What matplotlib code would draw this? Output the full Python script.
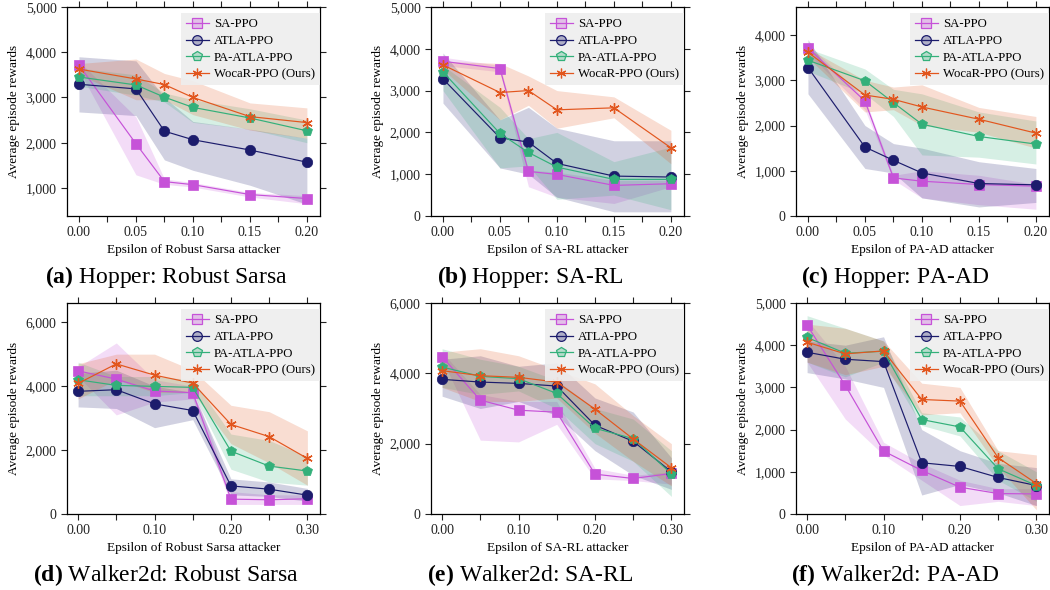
import matplotlib
matplotlib.use("Agg")
import matplotlib.pyplot as plt
from matplotlib.lines import Line2D
from matplotlib.ticker import FuncFormatter, MultipleLocator
import matplotlib.colors as mcolors

plt.rcParams['font.family'] = ['Liberation Serif', 'DejaVu Serif']
plt.rcParams['mathtext.fontset'] = 'custom'
plt.rcParams['mathtext.rm'] = 'Liberation Serif'
plt.rcParams['mathtext.bf'] = 'Liberation Serif:bold'

methods = ["SA-PPO", "ATLA-PPO", "PA-ATLA-PPO", "WocaR-PPO (Ours)"]
colors = ["#c652d8", "#1c1c6c", "#33b07a", "#e2561e"]
markers = ["s", "o", "p", (6, 2, 0)]

eps_hopper = [0.0, 0.05, 0.075, 0.10, 0.15, 0.20]
eps_walker = [0.0, 0.05, 0.10, 0.15, 0.20, 0.25, 0.30]

# (a) Hopper: Robust Sarsa
a_mean = [[3715, 1978, 1140, 1073, 854, 766],
          [3292, 3190, 2255, 2066, 1839, 1569],
          [3453, 3277, 3007, 2781, 2547, 2263],
          [3628, 3409, 3285, 3000, 2577, 2445]]
a_lo = [[3600, 1290, 1080, 1020, 800, 650],
        [2680, 2600, 1620, 1390, 1060, 640],
        [3250, 3050, 2900, 2450, 2300, 2000],
        [3500, 2950, 2950, 2620, 2280, 2100]]
a_hi = [[3800, 2570, 1200, 1120, 900, 830],
        [3900, 3810, 3000, 2470, 2300, 2100],
        [3650, 3500, 3100, 2950, 2750, 2500],
        [3750, 3850, 3530, 3370, 2880, 2770]]

# (b) Hopper: SA-RL
b_mean = [[3702, 3527, 1067, 995, 732, 772],
          [3280, 1871, 1768, 1258, 955, 932],
          [3447, 1975, 1520, 1170, 876, 876],
          [3615, 2954, 3001, 2540, 2588, 1632]]
b_lo = [[3600, 3450, 700, 450, 300, 700],
        [2700, 1150, 1000, 450, 100, 100],
        [3000, 1150, 1200, 400, 500, 150],
        [3500, 2300, 2650, 2100, 2350, 1250]]
b_hi = [[3800, 3600, 1100, 1050, 850, 850],
        [3900, 2300, 2600, 2100, 1800, 1800],
        [3600, 2600, 1850, 2000, 1300, 1650],
        [3700, 3650, 3350, 3000, 2850, 2050]]

# (c) Hopper: PA-AD
c_mean = [[3714, 2542, 842, 769, 696, 659],
          [3282, 1524, 1231, 952, 718, 689],
          [3443, 2989, 2505, 2029, 1758, 1590],
          [3619, 2674, 2579, 2410, 2139, 1832]]
c_lo = [[3600, 2350, 800, 400, 250, 150],
        [2700, 1050, 950, 400, 200, 300],
        [3200, 2700, 2200, 1350, 1300, 1150],
        [3500, 2300, 2350, 2000, 1850, 1500]]
c_hi = [[3800, 2600, 900, 1000, 900, 700],
        [3900, 2000, 1600, 1500, 1200, 1050],
        [3700, 3250, 2800, 2700, 2300, 2100],
        [3700, 3000, 2850, 2900, 2400, 2200]]

# (d) Walker2d: Robust Sarsa
d_mean = [[4478, 4219, 3847, 3795, 465, 445, 476],
          [3837, 3888, 3444, 3237, 879, 776, 589],
          [4199, 4023, 3992, 3961, 1965, 1499, 1344],
          [4085, 4695, 4343, 4095, 2802, 2420, 1737]]
d_lo = [[4300, 3100, 3500, 3600, 300, 300, 300],
        [3350, 3300, 2700, 2950, 600, 550, 400],
        [3700, 3700, 3700, 3800, 1400, 1000, 900],
        [3600, 4200, 3800, 3800, 2200, 1600, 900]]
d_hi = [[4600, 5350, 4200, 4000, 700, 600, 600],
        [4400, 4500, 4000, 3800, 1100, 1000, 800],
        [4750, 4300, 4300, 4200, 2500, 2300, 1800],
        [4700, 5000, 5000, 4500, 3400, 3200, 2600]]

# (e) Walker2d: SA-RL
e_mean = [[4476, 3238, 2952, 2895, 1133, 1010, 1152],
          [3829, 3752, 3714, 3638, 2524, 2067, 1200],
          [4181, 3914, 3848, 3429, 2438, 2143, 1143],
          [4076, 3933, 3886, 3752, 2981, 2133, 1314]]
e_lo = [[4400, 2100, 2050, 2550, 1000, 950, 850],
        [3350, 3000, 3200, 2800, 1800, 1100, 700],
        [3600, 3400, 3500, 3000, 2000, 1500, 500],
        [3600, 3200, 3200, 3300, 2300, 1500, 800]]
e_hi = [[4600, 3400, 3200, 3200, 1300, 1100, 1200],
        [4400, 4500, 4200, 4300, 3300, 2900, 1600],
        [4700, 4400, 4200, 3800, 3000, 2700, 1800],
        [4600, 4700, 4500, 4100, 3700, 2800, 2000]]

# (f) Walker2d: PA-AD
f_mean = [[4476, 3048, 1492, 1032, 635, 484, 476],
          [3833, 3667, 3611, 1214, 1127, 865, 675],
          [4183, 3810, 3857, 2238, 2063, 1071, 675],
          [4071, 3794, 3865, 2714, 2675, 1333, 722]]
f_lo = [[3600, 2250, 1400, 800, 200, 300, 200],
        [3350, 3200, 3000, 450, 700, 500, 200],
        [3600, 3250, 3600, 2100, 1850, 800, 300],
        [3600, 3300, 3500, 2350, 2400, 1100, 100]]
f_hi = [[4600, 3500, 1700, 1200, 800, 600, 600],
        [4100, 4000, 4200, 2000, 1500, 1200, 1100],
        [4700, 4400, 4100, 2400, 2300, 1500, 1000],
        [4500, 4400, 4100, 3100, 3000, 1500, 1400]]

panels = [
    (eps_hopper, a_mean, a_lo, a_hi, (380, 5000), "Epsilon of Robust Sarsa attacker", "(a)", "Hopper: Robust Sarsa"),
    (eps_hopper, b_mean, b_lo, b_hi, (0, 5000), "Epsilon of SA-RL attacker", "(b)", "Hopper: SA-RL"),
    (eps_hopper, c_mean, c_lo, c_hi, (0, 4620), "Epsilon of PA-AD attacker", "(c)", "Hopper: PA-AD"),
    (eps_walker, d_mean, d_lo, d_hi, (0, 6600), "Epsilon of Robust Sarsa attacker", "(d)", "Walker2d: Robust Sarsa"),
    (eps_walker, e_mean, e_lo, e_hi, (0, 6000), "Epsilon of SA-RL attacker", "(e)", "Walker2d: SA-RL"),
    (eps_walker, f_mean, f_lo, f_hi, (0, 5000), "Epsilon of PA-AD attacker", "(f)", "Walker2d: PA-AD"),
]

W, H = 1050, 590
fig = plt.figure(figsize=(W / 100, H / 100), dpi=100)
lefts = [67, 431, 796]
rows = [(7, 216), (303, 514)]
axw = 253

fmt = FuncFormatter(lambda v, p: f"{int(round(v)):,}")

for i, (xs, mean, lo, hi, ylim, xlabel, tag, cap) in enumerate(panels):
    r, c = divmod(i, 3)
    top, bot = rows[r]
    ax = fig.add_axes([lefts[c] / W, 1 - bot / H, axw / W, (bot - top) / H])
    for k in range(4):
        ax.fill_between(xs, lo[k], hi[k], color=colors[k], alpha=0.2, linewidth=0)
    for k in range(4):
        ax.plot(xs, mean[k], color=colors[k], marker=markers[k], lw=0.85,
                ms=7.5, mew=1.0 if k == 3 else 0.5,
                mec=colors[k], mfc=colors[k], zorder=3)
    if r == 0:
        ax.set_xlim(-0.0105, 0.2115)
        ax.xaxis.set_major_locator(MultipleLocator(0.05))
        ax.xaxis.set_minor_locator(MultipleLocator(0.025))
    else:
        ax.set_xlim(-0.0145, 0.3165)
        ax.xaxis.set_major_locator(MultipleLocator(0.1))
        ax.xaxis.set_minor_locator(MultipleLocator(0.05))
    ax.xaxis.set_major_formatter(FuncFormatter(lambda v, p: f"{v:.2f}"))
    ax.set_ylim(*ylim)
    ax.yaxis.set_major_locator(MultipleLocator(2000 if ylim[1] >= 6000 else 1000))
    ax.yaxis.set_major_formatter(fmt)
    ax.tick_params(which='both', direction='out', top=True, right=True,
                   labelsize=10, length=4, width=0.8, colors='#222222')
    ax.tick_params(which='minor', length=4)
    for s in ax.spines.values():
        s.set_linewidth(0.9)
    ax.set_xlabel(xlabel, fontsize=9.5, labelpad=3)
    ax.set_ylabel("Average episode rewards", fontsize=9.5, labelpad=4)
    handles = [Line2D([], [], color=colors[k], marker=markers[k], lw=0.9, ms=7,
                      mfc=mcolors.to_rgba(colors[k], 0.3), mec=colors[k], mew=0.9)
               for k in range(4)]
    leg = ax.legend(handles, methods, loc='upper right', bbox_to_anchor=(1.0, 0.97),
                    borderaxespad=0, fontsize=9.2, frameon=True, fancybox=False,
                    labelspacing=0.36, handlelength=1.8, handletextpad=0.4,
                    borderpad=0.4)
    leg.get_frame().set_facecolor('#eeeeee')
    leg.get_frame().set_edgecolor('none')
    leg.get_frame().set_alpha(0.9)
    cx = (lefts[c] + axw / 2 - 27) / W
    cy = 1 - (bot + 61) / H
    fig.text(cx, cy, r"$\mathbf{" + tag + "}$ " + cap, ha='center', va='center', fontsize=17)

fig.savefig("out.png", dpi=100)
